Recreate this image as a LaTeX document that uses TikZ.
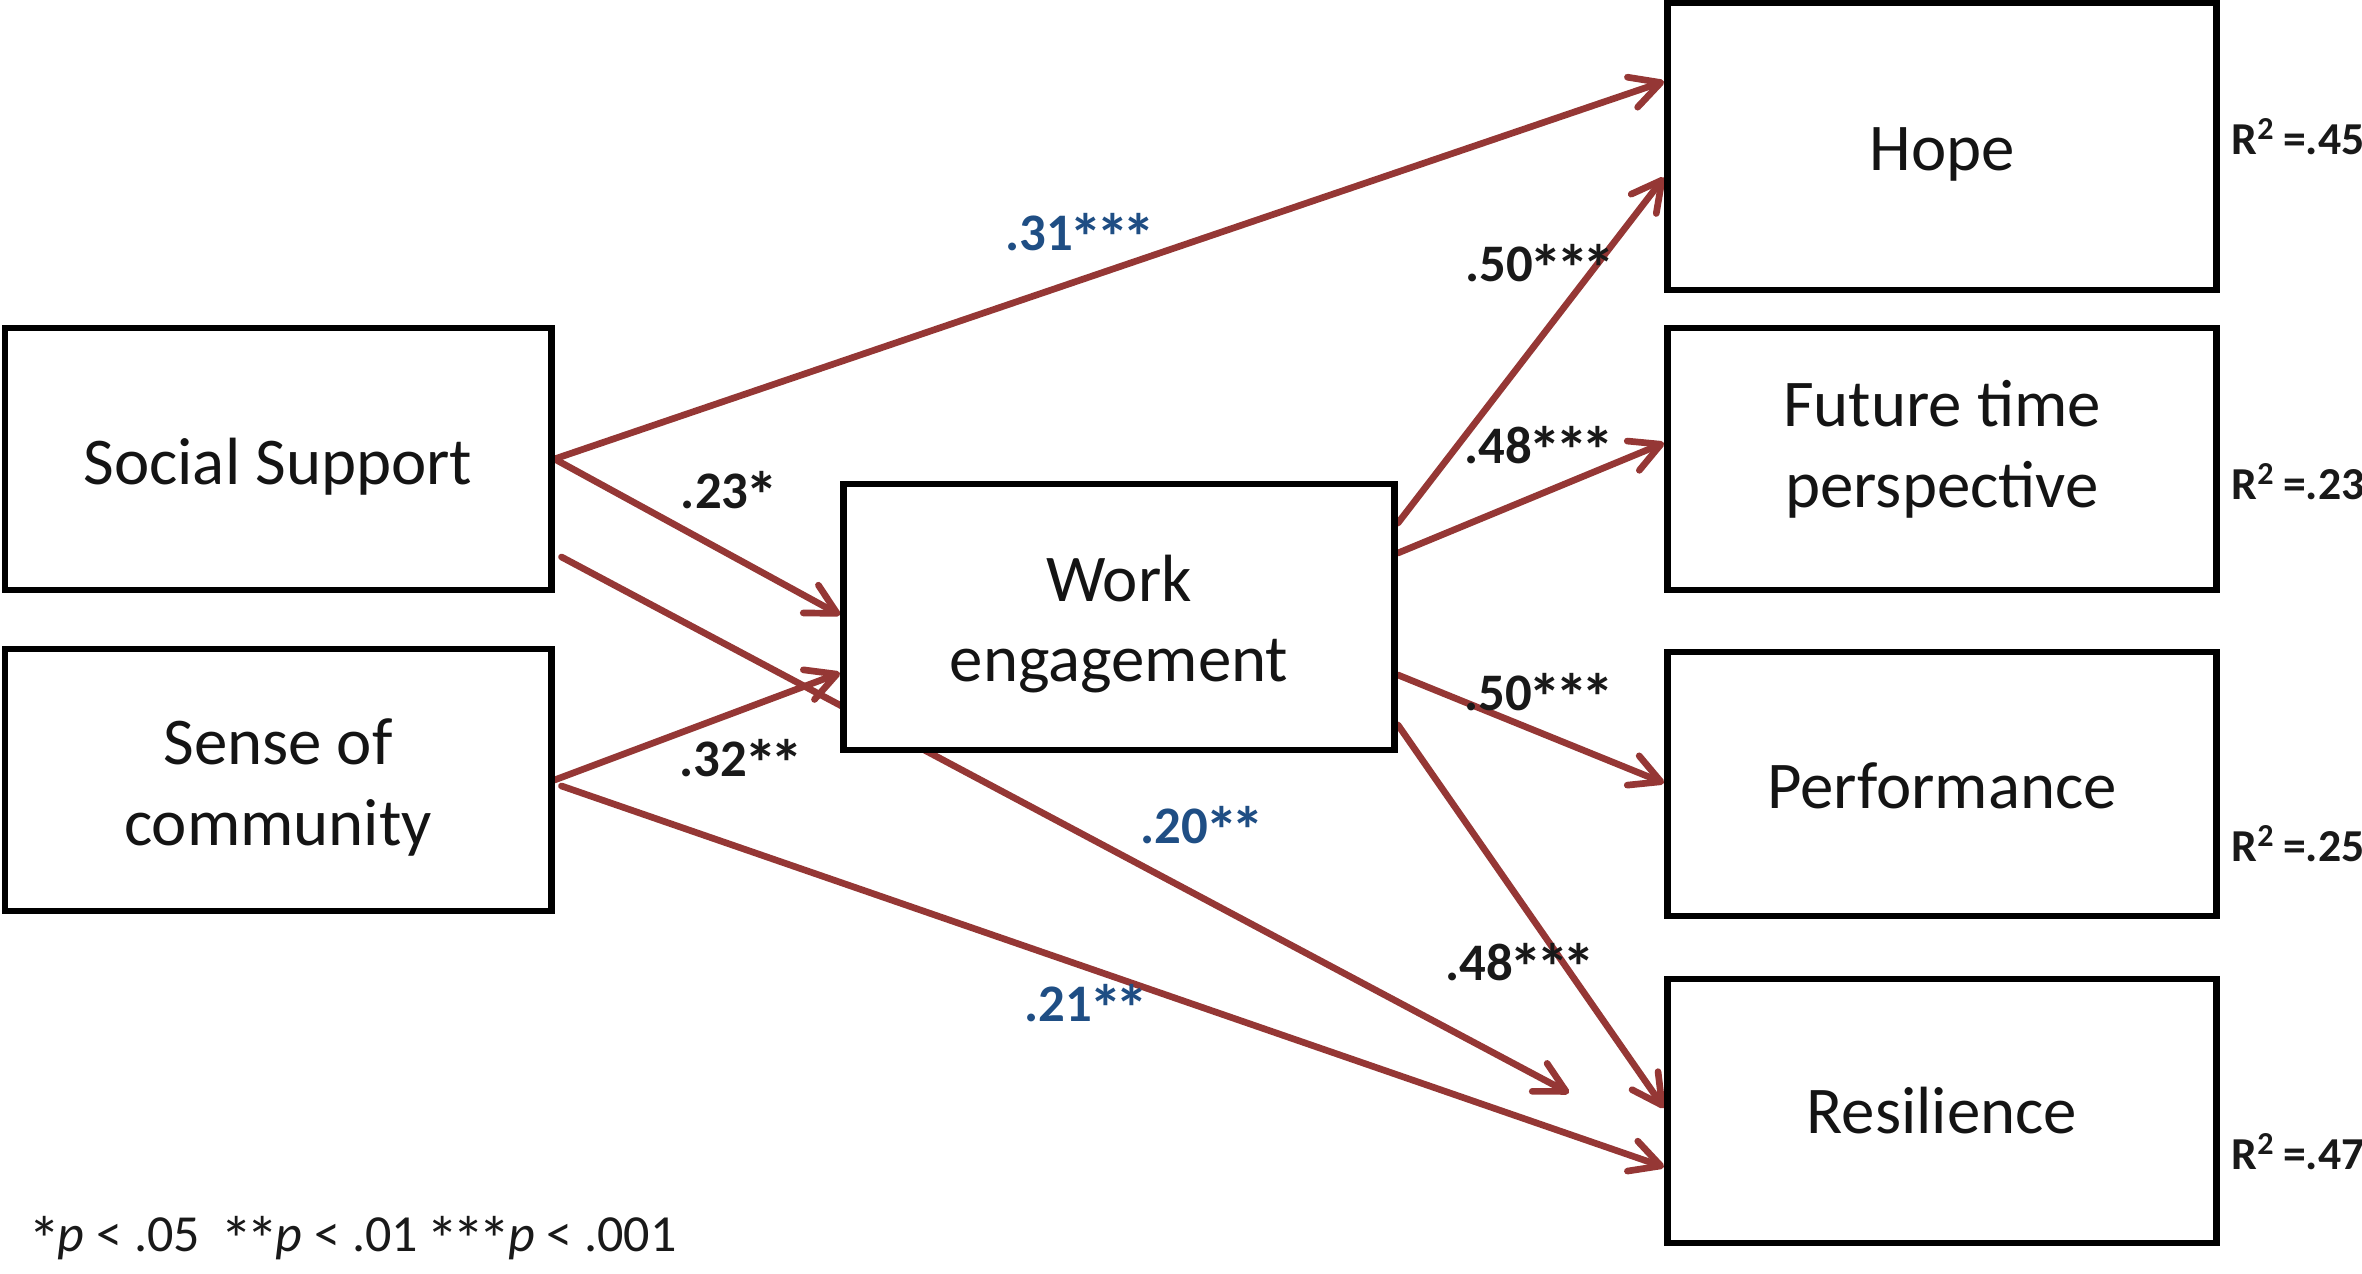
\documentclass[tikz,border=0pt]{standalone}
\usepackage{fontspec}
\usepackage{graphicx}
\setmainfont{Carlito}
\usetikzlibrary{arrows.meta,calc,backgrounds}
\definecolor{arrred}{RGB}{149,55,53}
\definecolor{coefblue}{RGB}{31,78,132}
\newcommand{\astk}{\kern-0.06em\raisebox{-0.2em}{\scalebox{1.25}{*}}\kern-0.06em}
\begin{document}
\begin{tikzpicture}[x=0.01cm,y=-0.01cm,
  box/.style={draw=black, line width=1.9pt, fill=white, rectangle, inner sep=0pt},
  lab/.style={inner sep=0pt, align=center, font=\fontsize{19}{23}\selectfont, text=black!92},
  arr/.style={draw=arrred, line width=1.9pt, line cap=round,
    -{Straight Barb[length=8.5pt,width=9pt,round]}},
  coef/.style={inner sep=0pt, font=\fontsize{15}{18}\selectfont\bfseries, text=black!90},
  bluecoef/.style={coef, text=coefblue},
  rsq/.style={inner sep=0pt, anchor=base west, font=\fontsize{13}{16}\selectfont\bfseries, text=black!90},
  note/.style={inner sep=0pt, anchor=base west, font=\fontsize{14.8}{17}\selectfont, text=black!90}]
\useasboundingbox (0,0) rectangle (2362,1274);

% boxes
\node[box, minimum width=5.46cm, minimum height=2.62cm,
  label={[lab, yshift=-0.075cm]center:Social Support}] (ss) at (278,459) {};
\node[box, minimum width=5.46cm, minimum height=2.62cm,
  label={[lab, yshift=-0.075cm]center:Sense of\\community}] (sc) at (278,780) {};
\node[box, minimum width=5.51cm, minimum height=2.66cm,
  label={[lab, yshift=-0.07cm]center:Work\\engagement}] (we) at (1119,617) {};
\node[box, minimum width=5.49cm, minimum height=2.87cm,
  label={[lab, yshift=-0.075cm]center:Hope}] (hope) at (1942,146.5) {};
\node[box, minimum width=5.49cm, minimum height=2.62cm,
  label={[lab, yshift=0.1cm]center:Future time\\perspective}] (ftp) at (1942,459) {};
\node[box, minimum width=5.49cm, minimum height=2.64cm,
  label={[lab, yshift=-0.015cm]center:Performance}] (perf) at (1942,784) {};
\node[box, minimum width=5.49cm, minimum height=2.64cm,
  label={[lab]center:Resilience}] (res) at (1942,1111) {};

\coordinate (e20) at (1569,1093);

% connectors
\begin{scope}[on background layer]
\draw[arr] (ss.east) -- ($(hope.west)+(0,-65)$);
\draw[arr] (ss.east) -- ($(we.west)+(0,-2)$);
\draw[arr] ($(ss.east)+(7,98)$) -- (e20);
\draw[arr] (sc.east) -- ($(we.west)+(0,56)$);
\draw[arr] ($(sc.east)+(7,6)$) -- ($(res.west)+(0,56)$);
\draw[arr] ($(we.east)+(0,-94)$) -- ($(hope.west)+(0,31)$);
\draw[arr] ($(we.east)+(0,-64)$) -- ($(ftp.west)+(0,-16)$);
\draw[arr] ($(we.east)+(0,58)$) -- ($(perf.west)+(0,-1)$);
\draw[arr] ($(we.east)+(0,108)$) -- ($(res.west)+(0,-3)$);
\end{scope}

% coefficients
\node[bluecoef] (c31) at (1079,237) {.31\astk\astk\astk};
\node[coef] (c23) at (728,495) {.23\astk};
\node[coef] (c32) at (740,763) {.32\astk\astk};
\node[bluecoef] (c20) at (1201,830) {.20\astk\astk};
\node[bluecoef] (c21) at (1085,1008) {.21\astk\astk};
\node[coef] (c50a) at (1539,268) {.50\astk\astk\astk};
\node[coef] (c48a) at (1538,450) {.48\astk\astk\astk};
\node[coef] (c50b) at (1538,697) {.50\astk\astk\astk};
\node[coef] (c48b) at (1519,967) {.48\astk\astk\astk};

% R squared
\node[rsq] (r1) at (2231,155) {R\textsuperscript{2}\,=.45};
\node[rsq] (r2) at (2231,500) {R\textsuperscript{2}\,=.23};
\node[rsq] (r3) at (2231,862) {R\textsuperscript{2}\,=.25};
\node[rsq] (r4) at (2231,1170) {R\textsuperscript{2}\,=.47};

% note
\node[note] (fn) at (31,1252) {\astk\textit{p} < .05\ \ \astk\astk\textit{p} < .01 \astk\astk\astk\textit{p} < .001};
\end{tikzpicture}
\end{document}
